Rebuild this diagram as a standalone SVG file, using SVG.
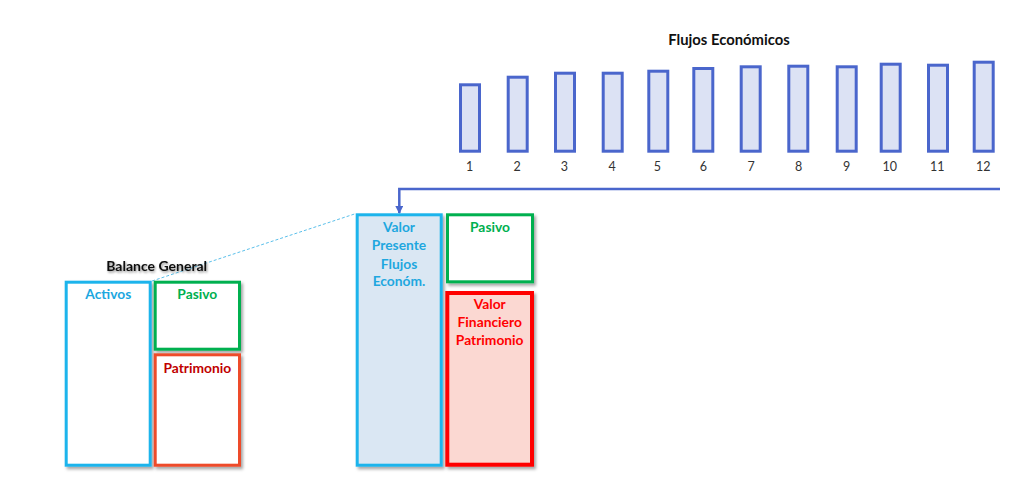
<svg xmlns="http://www.w3.org/2000/svg" width="1024" height="498" viewBox="0 0 1024 498">
<defs>
<style>
.bar{fill:#DCE2F4;stroke:#4A66CC;stroke-width:3}
.num{font-family:Lato,"Liberation Sans",sans-serif;font-size:12.5px;fill:#333;text-anchor:middle}
.lbl{font-family:Lato,"Liberation Sans",sans-serif;font-size:13.8px;font-weight:bold;text-anchor:middle}
.title{font-family:Lato,"Liberation Sans",sans-serif;font-size:14.8px;font-weight:bold;fill:#111;text-anchor:middle}
.box{stroke-width:3}
</style>
<filter id="sh" x="-10%" y="-10%" width="130%" height="130%">
<feDropShadow dx="2" dy="2.5" stdDeviation="1.5" flood-color="#000" flood-opacity="0.35"/>
</filter>
<filter id="tsh" x="-10%" y="-30%" width="120%" height="160%">
<feDropShadow dx="1" dy="1.5" stdDeviation="1" flood-color="#000" flood-opacity="0.45"/>
</filter>
<marker id="arr" markerWidth="8" markerHeight="8" refX="7" refY="4" orient="auto" markerUnits="userSpaceOnUse">
<path d="M0,0 L8,4 L0,8 Z" fill="#4A66CC"/>
</marker>
</defs>
<rect width="1024" height="498" fill="#fff"/>

<g id="flujos">
<text class="title" x="729" y="44.5">Flujos Económicos</text>
<rect class="bar" x="460.5" y="84.8" width="19" height="66.4"/>
<rect class="bar" x="508.2" y="77.2" width="19" height="74"/>
<rect class="bar" x="555.5" y="73.2" width="19" height="78"/>
<rect class="bar" x="603.2" y="73.2" width="19" height="78"/>
<rect class="bar" x="648.8" y="71.2" width="19" height="80"/>
<rect class="bar" x="693.8" y="68.5" width="19" height="82.7"/>
<rect class="bar" x="741.2" y="66.8" width="19" height="84.4"/>
<rect class="bar" x="788.8" y="66.2" width="19" height="85"/>
<rect class="bar" x="837.2" y="66.8" width="19" height="84.4"/>
<rect class="bar" x="881.2" y="64.2" width="19" height="87"/>
<rect class="bar" x="928.5" y="65.2" width="19" height="86"/>
<rect class="bar" x="974.2" y="62.2" width="19" height="89"/>
<text class="num" x="469.7" y="171">1</text>
<text class="num" x="517" y="171">2</text>
<text class="num" x="564.3" y="171">3</text>
<text class="num" x="612" y="171">4</text>
<text class="num" x="657.3" y="171">5</text>
<text class="num" x="703.3" y="171">6</text>
<text class="num" x="751" y="171">7</text>
<text class="num" x="798.7" y="171">8</text>
<text class="num" x="846.7" y="171">9</text>
<text class="num" x="889.7" y="171">10</text>
<text class="num" x="937.3" y="171">11</text>
<text class="num" x="983.3" y="171">12</text>
</g>

<g id="connectors">
<path d="M1000,189 H399.3 V213" fill="none" stroke="#4A66CC" stroke-width="2.5" marker-end="url(#arr)"/>
<line x1="152" y1="281" x2="356" y2="213.5" stroke="#5BC0EB" stroke-width="1" stroke-dasharray="3,2"/>
</g>

<g id="balance-general">
<text class="title" x="156.7" y="270.5" style="font-size:14px" filter="url(#tsh)">Balance General</text>
</g>

<g id="activos">
<rect class="box" x="66.2" y="282.2" width="84" height="183" fill="#fff" stroke="#1CB4EC" filter="url(#sh)"/>
<text class="lbl" x="108.3" y="299" fill="#1CA7E0">Activos</text>
</g>

<g id="pasivo-bg">
<rect class="box" x="155.2" y="282.2" width="84.3" height="67" fill="#fff" stroke="#00B050" filter="url(#sh)"/>
<text class="lbl" x="197.3" y="299" fill="#00B050">Pasivo</text>
</g>

<g id="patrimonio-bg">
<rect class="box" x="155.2" y="354.8" width="84.3" height="110.4" fill="#fff" stroke="#EE4B2B" filter="url(#sh)"/>
<text class="lbl" x="197.3" y="372.5" fill="#C00000">Patrimonio</text>
</g>

<g id="valor-presente">
<rect class="box" x="357.2" y="214.8" width="84" height="250.4" fill="#DAE7F3" stroke="#1CB4EC" filter="url(#sh)"/>
<text class="lbl" x="399" y="232.3" fill="#1FA7DF">Valor</text>
<text class="lbl" x="399" y="250.3" fill="#1FA7DF">Presente</text>
<text class="lbl" x="399" y="268.5" fill="#1FA7DF">Flujos</text>
<text class="lbl" x="399" y="286.3" fill="#1FA7DF">Económ.</text>
</g>

<g id="pasivo-vf">
<rect class="box" x="447.5" y="214.8" width="85" height="67" fill="#fff" stroke="#00B050" filter="url(#sh)"/>
<text class="lbl" x="490" y="232.3" fill="#00B050">Pasivo</text>
</g>

<g id="valor-financiero">
<rect x="447.3" y="293" width="84.7" height="171.7" fill="#FBD8D2" stroke="#FF0000" stroke-width="4" filter="url(#sh)"/>
<text class="lbl" x="489.7" y="309" fill="#FF0000">Valor</text>
<text class="lbl" x="489.7" y="327.3" fill="#FF0000">Financiero</text>
<text class="lbl" x="489.7" y="345.3" fill="#FF0000">Patrimonio</text>
</g>
</svg>
